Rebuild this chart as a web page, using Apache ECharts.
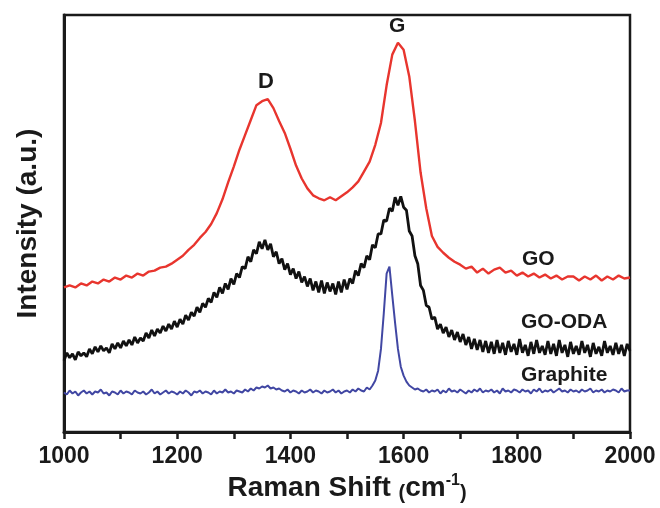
<!DOCTYPE html>
<html>
<head>
<meta charset="utf-8">
<script src="https://cdn.jsdelivr.net/npm/echarts@6/dist/echarts.min.js"></script>
<style>
  html, body { margin: 0; padding: 0; background: #ffffff; }
  #chart { width: 660px; height: 508px; }
</style>
</head>
<body>
<div id="chart"></div>
<script>
// Raman spectra of graphite, graphene oxide (GO) and ODA-functionalised GO.
// Intensities are in arbitrary units (curves are vertically offset).

const xTicks = [1000, 1200, 1400, 1600, 1800, 2000];

// GO: sampled every 10 cm-1 from 1000 to 2000
const goStart = 1000, goStep = 10;
const goIntensity = [
  146,148,146,150,148,152,150,154,152,156,
  154,158,156,160,158,162,163,166,167,170,
  174,178,184,189,196,202,210,221,235,252,
  268,285,300,315,330,334,336,327,314,302,
  286,269,256,246,239,236,234,237,234,238,
  242,247,253,263,273,290,312,350,381,393,
  386,359,314,262,226,198,187,181,176,172,
  169,165,167,161,165,160,164,166,161,163,
  158,161,157,160,156,159,155,158,154,157,
  157,153,157,154,158,153,157,154,158,155,156
];

// GO-ODA: sampled every 5 cm-1 from 1000 to 2000
const odaStart = 1000, odaStep = 5;
const odaIntensity = [
  72,80,75,79,73,81,77,80,76,84,
  79,86,81,87,82,85,80,89,84,90,
  85,92,87,93,88,96,90,95,92,100,
  95,103,97,104,100,107,102,109,104,112,
  106,114,109,118,113,121,117,126,121,130,
  126,135,131,141,136,146,140,150,144,155,
  149,160,156,167,165,177,172,184,180,192,
  185,194,184,190,177,182,170,175,164,170,
  159,165,155,162,151,157,147,155,143,152,
  141,153,140,151,142,150,139,152,141,154,
  144,155,150,163,158,170,166,178,174,189,
  186,200,200,214,213,226,223,237,229,238,
  227,224,203,198,178,170,148,143,128,126,
  114,116,104,109,100,106,96,103,93,101,
  91,99,88,96,84,94,83,93,81,92,
  80,91,79,93,80,90,78,92,81,89,
  78,94,80,88,77,91,79,93,80,87,
  78,92,79,89,77,93,80,88,76,91,
  79,87,78,92,80,88,76,90,79,86,
  77,92,80,87,78,90,79,88,77,89,
  82
];

// Graphite: sampled every 5 cm-1 from 1000 to 2000
const graphiteStart = 1000, graphiteStep = 5;
const graphiteIntensity = [
  40,38,42,39,41,37,40,42,39,41,
  38,41,40,43,39,40,37,41,40,38,
  42,39,41,40,38,42,40,39,41,38,
  40,43,39,41,38,40,42,39,41,40,
  38,41,39,42,40,37,41,40,42,39,
  41,40,38,42,39,41,40,43,40,41,
  39,42,41,40,43,41,44,42,45,44,
  46,45,47,44,45,43,44,42,41,43,
  40,42,41,39,42,40,41,43,40,42,
  41,39,42,40,41,43,40,42,39,41,
  42,40,43,41,44,42,41,45,43,47,
  52,62,84,120,160,167,138,110,84,66,
  57,51,47,45,43,44,42,41,43,40,
  42,41,43,39,42,40,44,41,42,40,
  43,41,39,42,40,43,41,44,40,42,
  41,43,40,42,39,44,41,42,40,43,
  42,40,43,41,42,39,43,41,44,40,
  42,41,43,40,42,44,41,42,40,43,
  41,42,40,43,41,42,44,40,42,41,
  43,40,42,41,43,42,40,44,41,42,
  42
];

function pairs(start, step, values) {
  return values.map((v, i) => [start + i * step, v]);
}

const INK = '#1a1a1a';
const FONT = '"Liberation Sans", Arial, Helvetica, sans-serif';

const chart = echarts.init(document.getElementById('chart'), null, { renderer: 'canvas' });

chart.setOption({
  animation: false,
  backgroundColor: '#ffffff',
  grid: {
    left: 64, right: 30, top: 15, bottom: 72,
    show: true, borderColor: INK, borderWidth: 2.5
  },
  xAxis: {
    type: 'value',
    min: xTicks[0], max: xTicks[xTicks.length - 1], interval: 200,
    axisLine: { show: true, onZero: false, lineStyle: { color: INK, width: 3 } },
    axisTick: { show: true, inside: false, length: 7, lineStyle: { color: INK, width: 2.5 } },
    minorTick: { show: true, splitNumber: 2, length: 7, lineStyle: { color: INK, width: 2.5 } },
    splitLine: { show: false },
    axisLabel: {
      margin: 13, color: INK, fontSize: 23, fontWeight: 'bold', fontFamily: FONT,
      formatter: (v) => String(v)
    },
    name: '{a|Raman Shift }{p|(}{a|cm}{s|-1}{p|)}',
    nameLocation: 'middle',
    nameGap: 38,
    nameTextStyle: {
      color: INK, fontFamily: FONT,
      rich: {
        a: { fontSize: 28, fontWeight: 'bold', color: INK, fontFamily: FONT, lineHeight: 30 },
        p: { fontSize: 20, fontWeight: 'bold', color: INK, fontFamily: FONT, lineHeight: 30, verticalAlign: 'bottom' },
        s: { fontSize: 16, fontWeight: 'bold', color: INK, fontFamily: FONT, lineHeight: 30, verticalAlign: 'top' }
      }
    }
  },
  yAxis: {
    type: 'value',
    min: 0, max: 421,
    axisLine: { show: true, lineStyle: { color: INK, width: 3 } },
    axisTick: { show: false },
    axisLabel: { show: false },
    splitLine: { show: false },
    name: 'Intensity (a.u.)',
    nameLocation: 'middle',
    nameRotate: 90,
    nameGap: 22,
    nameTextStyle: { color: INK, fontSize: 28, fontWeight: 'bold', fontFamily: FONT }
  },
  series: [
    {
      name: 'Graphite', type: 'line', showSymbol: false, symbol: 'none',
      data: pairs(graphiteStart, graphiteStep, graphiteIntensity),
      lineStyle: { color: '#4147a3', width: 2 }, z: 3
    },
    {
      name: 'GO-ODA', type: 'line', showSymbol: false, symbol: 'none',
      data: pairs(odaStart, odaStep, odaIntensity),
      lineStyle: { color: '#111111', width: 2.8 }, z: 4
    },
    {
      name: 'GO', type: 'line', showSymbol: false, symbol: 'none',
      data: pairs(goStart, goStep, goIntensity),
      lineStyle: { color: '#e8352e', width: 2.4 }, z: 5
    }
  ],
  graphic: [
    { type: 'text', left: 522, top: 249, style: { text: 'GO', font: 'bold 21px ' + FONT, fill: INK } },
    { type: 'text', left: 521, top: 312, style: { text: 'GO-ODA', font: 'bold 21px ' + FONT, fill: INK } },
    { type: 'text', left: 521, top: 365, style: { text: 'Graphite', font: 'bold 21px ' + FONT, fill: INK } },
    { type: 'text', left: 258, top: 71, style: { text: 'D', font: 'bold 22px ' + FONT, fill: INK } },
    { type: 'text', left: 389, top: 16, style: { text: 'G', font: 'bold 21px ' + FONT, fill: INK } }
  ]
});
</script>
</body>
</html>
